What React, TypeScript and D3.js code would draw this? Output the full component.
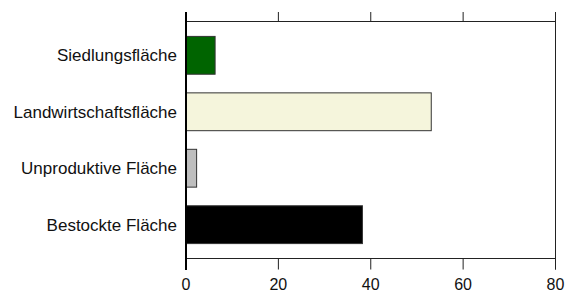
import React from "react";
import * as d3 from "d3";

const categories = ["Siedlungsfläche", "Landwirtschaftsfläche", "Unproduktive Fläche", "Bestockte Fläche"];
const values = [6.3, 53.1, 2.3, 38.2];
const colors = ["#006400", "#f5f5dc", "#bebebe", "#000000"];
const ticks = [0, 20, 40, 60, 80];

const W = 567;
const H = 293;
const left = 186;
const right = 555.5;
const top = 21.5;
const bottom = 258.5;

export default function App() {
  const x = d3.scaleLinear().domain([0, 80]).range([left, right]);
  const y = d3.scaleBand<string>().domain(categories).range([top, bottom]).paddingInner(0.33).paddingOuter(0.264);
  const font = "'Liberation Sans', Arial, sans-serif";
  return (
    <svg width={W} height={H} style={{ position: "absolute", left: 0, top: 0, background: "#fff" }}>
      {categories.map((c, i) => (
        <rect key={c} x={x(0)} y={y(c)!} width={x(values[i]) - x(0)} height={y.bandwidth()}
          fill={colors[i]} stroke="#333" strokeWidth={1} />
      ))}
      <line x1={left} x2={right} y1={top} y2={top} stroke="#222" strokeWidth={1} />
      <line x1={left} x2={right} y1={bottom} y2={bottom} stroke="#222" strokeWidth={1} />
      <line x1={right} x2={right} y1={12} y2={269.5} stroke="#222" strokeWidth={1} />
      {ticks.map((t) => (
        <g key={t}>
          <line x1={x(t)} x2={x(t)} y1={12} y2={top} stroke="#222" strokeWidth={1} />
          <line x1={x(t)} x2={x(t)} y1={bottom} y2={269.5} stroke="#222" strokeWidth={1} />
          <text x={x(t)} y={289.5} textAnchor="middle" fontFamily={font} fontSize={16} fill="#111">{t}</text>
        </g>
      ))}
      <line x1={left} x2={left} y1={12} y2={270} stroke="#000" strokeWidth={2} />
      {categories.map((c) => (
        <text key={c} x={177} y={y(c)! + y.bandwidth() / 2} dy="0.35em" textAnchor="end"
          fontFamily={font} fontSize={17} fill="#111">{c}</text>
      ))}
    </svg>
  );
}
